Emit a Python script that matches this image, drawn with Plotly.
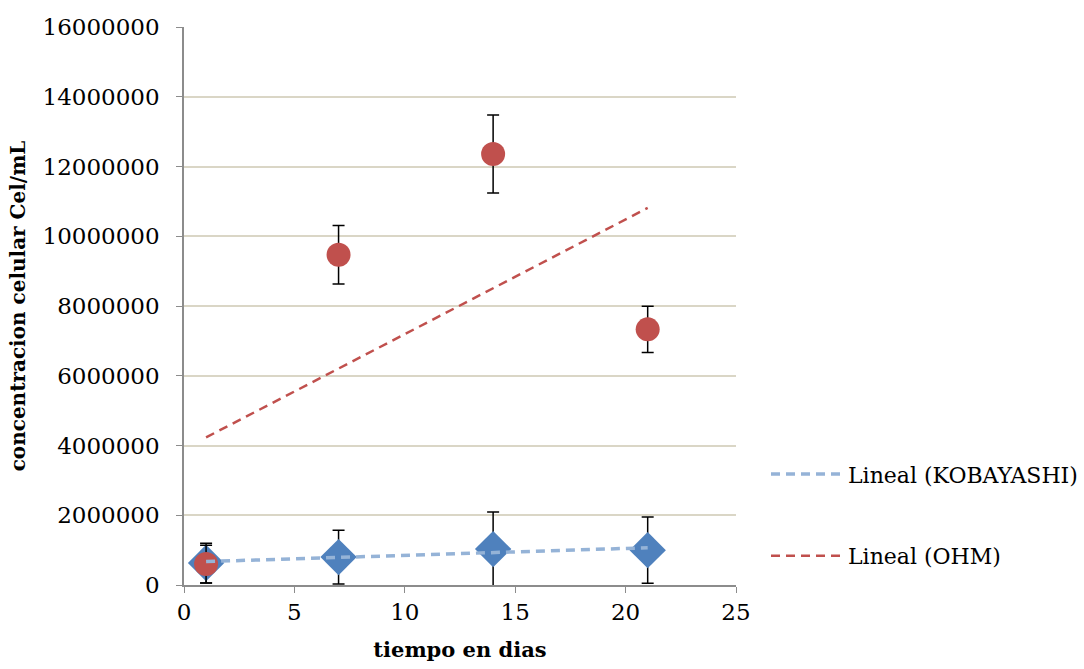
import numpy as np
import plotly.graph_objects as go

# Días de muestreo
dias = [1, 7, 14, 21]

# Concentración celular (cel/mL) y desviaciones
ohm = [600000, 9470000, 12360000, 7330000]
ohm_err = [540000, 840000, 1120000, 660000]
kobayashi = [630000, 800000, 1030000, 1000000]
kobayashi_err = [570000, 770000, 1060000, 950000]

FONT = "DejaVu Serif"
RED = "#C0504D"
BLUE = "#4F81BD"
BLUE_TREND = "#95B3D7"
GRID = "#DAD6C6"
AXIS = "#8C8C8C"

W, H = 1084, 669
ML, MR, MT, MB = 184, 0, 27, 84
PLOT_W = 552  # ancho del área de datos en px


def linear_fit(x, y):
    m, b = np.polyfit(x, y, 1)
    xs = [min(x), max(x)]
    return xs, [m * v + b for v in xs]


fig = go.Figure()

fig.add_trace(go.Scatter(
    x=dias, y=kobayashi, mode="markers", showlegend=False,
    marker=dict(symbol="diamond", size=28, color=BLUE),
    error_y=dict(type="data", array=kobayashi_err, color="black", thickness=1.5, width=6),
))
fig.add_trace(go.Scatter(
    x=dias, y=ohm, mode="markers", showlegend=False,
    marker=dict(symbol="circle", size=24, color=RED),
    error_y=dict(type="data", array=ohm_err, color="black", thickness=1.5, width=6),
))

kx, ky = linear_fit(dias, kobayashi)
fig.add_trace(go.Scatter(
    x=kx, y=ky, mode="lines", name="Lineal (KOBAYASHI)", legendgroup="k",
    line=dict(color=BLUE_TREND, width=3.5, dash="9px,6px"),
))
ox, oy = linear_fit(dias, ohm)
fig.add_trace(go.Scatter(
    x=ox, y=oy, mode="lines", name="Lineal (OHM)", legendgroup="o",
    line=dict(color=RED, width=2.5, dash="9px,6px"),
))

paper_w = W - ML - MR
fig.update_layout(
    width=W, height=H,
    margin=dict(l=ML, r=MR, t=MT, b=MB, autoexpand=False),
    paper_bgcolor="white", plot_bgcolor="white",
    font=dict(family=FONT, size=23, color="black"),
    legend=dict(
        x=(766 - ML) / paper_w, y=0.125, xanchor="left", yanchor="middle",
        itemwidth=72, tracegroupgap=50, traceorder="grouped",
        font=dict(family=FONT, size=22),
        bgcolor="rgba(0,0,0,0)",
    ),
)

fig.update_xaxes(
    domain=[0, PLOT_W / paper_w],
    range=[0, 25], tickvals=[0, 5, 10, 15, 20, 25],
    showgrid=False, zeroline=False,
    showline=True, linecolor=AXIS, linewidth=1.5,
    ticks="outside", ticklen=6, tickcolor=AXIS,
    title=dict(text="<b>tiempo en dias</b>", font=dict(family=FONT, size=21), standoff=18),
)
fig.update_yaxes(
    range=[0, 16000000], tickvals=list(range(0, 16000001, 2000000)),
    tickformat="d", ticklabelstandoff=12,
    showgrid=True, gridcolor=GRID, gridwidth=1.5, zeroline=False,
    showline=True, linecolor=AXIS, linewidth=1.5,
    ticks="outside", ticklen=6, tickcolor=AXIS,
    title=dict(text="<b>concentracion celular Cel/mL</b>", font=dict(family=FONT, size=20), standoff=12),
)

fig.write_html("out.html")
